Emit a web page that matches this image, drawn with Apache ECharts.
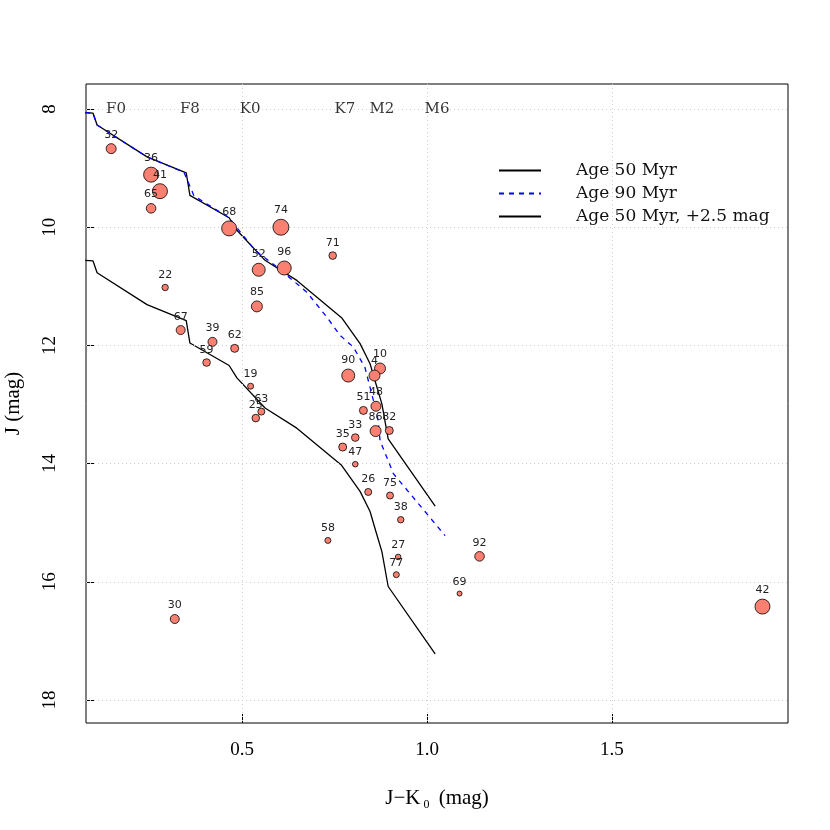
<!DOCTYPE html>
<html>
<head>
<meta charset="utf-8">
<script src="https://cdn.jsdelivr.net/npm/echarts@6/dist/echarts.min.js"></script>
<style>
  html, body { margin: 0; padding: 0; background: #fff; }
  #chart { width: 830px; height: 830px; }
</style>
</head>
<body>
<div id="chart"></div>
<script>
// stars: id, J-K0, J, weight (drives marker size)
const starIds = ["32", "36", "41", "65", "68", "74", "52", "96", "71", "85",
  "22", "67", "39", "62", "59", "19", "63", "25", "90", "10",
  "4", "48", "51", "86", "82", "33", "35", "47", "26", "75",
  "38", "58", "27", "77", "92", "69", "42", "30"];
const starJK = [0.146, 0.254, 0.278, 0.254, 0.465, 0.605, 0.545, 0.614, 0.745, 0.540,
  0.292, 0.334, 0.420, 0.480, 0.404, 0.523, 0.552, 0.537, 0.787, 0.873,
  0.858, 0.862, 0.828, 0.861, 0.898, 0.806, 0.772, 0.806, 0.841, 0.900,
  0.929, 0.732, 0.922, 0.917, 1.142, 1.088, 1.907, 0.318];
const starJ = [8.67, 9.11, 9.39, 9.68, 10.02, 10.00, 10.72, 10.69, 10.48, 11.34,
  11.02, 11.74, 11.94, 12.05, 12.29, 12.69, 13.12, 13.23, 12.51, 12.39,
  12.51, 13.03, 13.10, 13.45, 13.44, 13.56, 13.72, 14.01, 14.48, 14.54,
  14.95, 15.30, 15.58, 15.88, 15.57, 16.20, 16.42, 16.63];
const starWeight = [4.5, 7, 7, 4.3, 7, 7.5, 6, 6.5, 3.3, 5,
  2.7, 4, 4, 3.5, 3.3, 2.5, 3, 3.3, 6, 5,
  5, 4.5, 3.5, 5, 3.5, 3.3, 3.5, 2.3, 3, 3,
  2.7, 2.5, 2.3, 2.5, 4.3, 2, 7, 4];

// isochrones
const iso50JK = [0.076, 0.097, 0.108, 0.243, 0.349, 0.359, 0.465, 0.486, 0.562, 0.648,
  0.769, 0.819, 0.846, 0.859, 0.878, 0.895, 1.022];
const iso50J = [8.06, 8.07, 8.27, 8.81, 9.08, 9.46, 9.84, 10.05, 10.56, 10.90,
  11.53, 11.97, 12.31, 12.59, 12.99, 13.58, 14.72];
const iso50bJ = [10.56, 10.57, 10.77, 11.31, 11.58, 11.96, 12.34, 12.55, 13.06, 13.40,
  14.03, 14.47, 14.81, 15.09, 15.49, 16.08, 17.22];
const iso90JK = [0.076, 0.097, 0.108, 0.243, 0.343, 0.370, 0.465, 0.495, 0.535, 0.594,
  0.675, 0.729, 0.765, 0.801, 0.832, 0.846, 0.855, 0.868, 0.873, 0.891, 0.909, 1.049];
const iso90J = [8.06, 8.07, 8.27, 8.81, 9.07, 9.47, 9.84, 10.08, 10.39, 10.67,
  11.10, 11.52, 11.83, 12.03, 12.37, 12.71, 12.93, 13.27, 13.61, 13.89, 14.17, 15.22];

// spectral types along the top
const spTypes = ["F0", "F8", "K0", "K7", "M2", "M6"];
const spJK = [0.159, 0.359, 0.522, 0.778, 0.878, 1.027];

const xTicks = [0.5, 1.0, 1.5];
const yTicks = [8, 10, 12, 14, 16, 18];

const zip = (a, b) => a.map((v, i) => [v, b[i]]);

const chart = echarts.init(document.getElementById("chart"));

const gridLineStyle = { color: "#cfcfcf", type: [1, 3], width: 1 };

chart.setOption({
  animation: false,
  backgroundColor: "#fff",
  grid: {
    left: 86, right: 42, top: 84, bottom: 107,
    outerBoundsMode: "none", containLabel: false,
    show: true, borderColor: "#000", borderWidth: 1
  },
  legend: {
    left: 493, top: 157, orient: "vertical",
    itemWidth: 42, itemHeight: 14, itemGap: 6,
    itemStyle: { opacity: 0 },
    textStyle: { fontFamily: "DejaVu Serif", fontSize: 17, color: "#111", padding: [0, 0, 0, 30] },
    data: ["Age 50 Myr", "Age 90 Myr", "Age 50 Myr, +2.5 mag"]
  },
  xAxis: {
    type: "value", min: 0.078, max: 1.976,
    axisLine: { show: false },
    splitLine: { show: false },
    axisTick: { show: true, inside: true, length: 9, customValues: xTicks, lineStyle: { color: "#000" } },
    axisLabel: {
      customValues: xTicks, margin: 18,
      fontFamily: "Liberation Serif", fontSize: 19, color: "#000",
      formatter: v => v.toFixed(1)
    },
    name: "{n|J\u2212K}{s|0}{n| (mag)}",
    nameLocation: "middle", nameGap: 62,
    nameTextStyle: {
      rich: {
        n: { fontFamily: "Liberation Serif", fontSize: 21, color: "#000" },
        s: { fontFamily: "Liberation Serif", fontSize: 12, color: "#000", padding: [14, 4, 0, 3] }
      }
    }
  },
  yAxis: {
    type: "value", inverse: true, min: 7.576, max: 18.39,
    axisLine: { show: false },
    splitLine: { show: false },
    axisTick: { show: true, inside: true, length: 9, customValues: yTicks, lineStyle: { color: "#000" } },
    axisLabel: {
      customValues: yTicks, rotate: 90, margin: 26,
      fontFamily: "Liberation Serif", fontSize: 19, color: "#000"
    },
    name: "J (mag)",
    nameLocation: "middle", nameGap: 62, nameRotate: 90,
    nameTextStyle: { fontFamily: "Liberation Serif", fontSize: 21, color: "#000" }
  },
  series: [
    {
      // dotted reference grid
      type: "line", data: [], silent: true,
      markLine: {
        silent: true, symbol: "none", label: { show: false },
        lineStyle: gridLineStyle,
        data: xTicks.map(v => ({ xAxis: v })).concat(yTicks.map(v => ({ yAxis: v })))
      }
    },
    {
      name: "Age 50 Myr", type: "line", data: zip(iso50JK, iso50J), symbol: "none",
      color: "#000", lineStyle: { color: "#000", width: 1.3 }, z: 3
    },
    {
      name: "Age 90 Myr", type: "line", data: zip(iso90JK, iso90J), symbol: "none",
      color: "#0000ff", lineStyle: { color: "#0000ff", width: 1.3, type: [5, 5] }, z: 4
    },
    {
      name: "Age 50 Myr, +2.5 mag", type: "line", data: zip(iso50JK, iso50bJ), symbol: "none",
      color: "#000", lineStyle: { color: "#000", width: 1.3 }, z: 3
    },
    {
      type: "scatter", z: 5,
      data: starIds.map((id, i) => ({ value: [starJK[i], starJ[i]], name: id })),
      symbolSize: (v, p) => starWeight[p.dataIndex] * 2 + 1,
      itemStyle: { color: "#fa8072", borderColor: "#000", borderWidth: 0.8, opacity: 1 },
      label: {
        show: true, position: "top", distance: 3,
        formatter: p => p.name,
        fontFamily: "DejaVu Sans", fontSize: 11, color: "#222"
      }
    },
    {
      type: "scatter", z: 6, symbolSize: 0, silent: true,
      data: spTypes.map((s, i) => ({ value: [spJK[i], 8], name: s })),
      label: {
        show: true, position: "inside",
        formatter: p => p.name,
        fontFamily: "DejaVu Serif", fontSize: 15, color: "#000"
      }
    }
  ]
});
</script>
</body>
</html>
